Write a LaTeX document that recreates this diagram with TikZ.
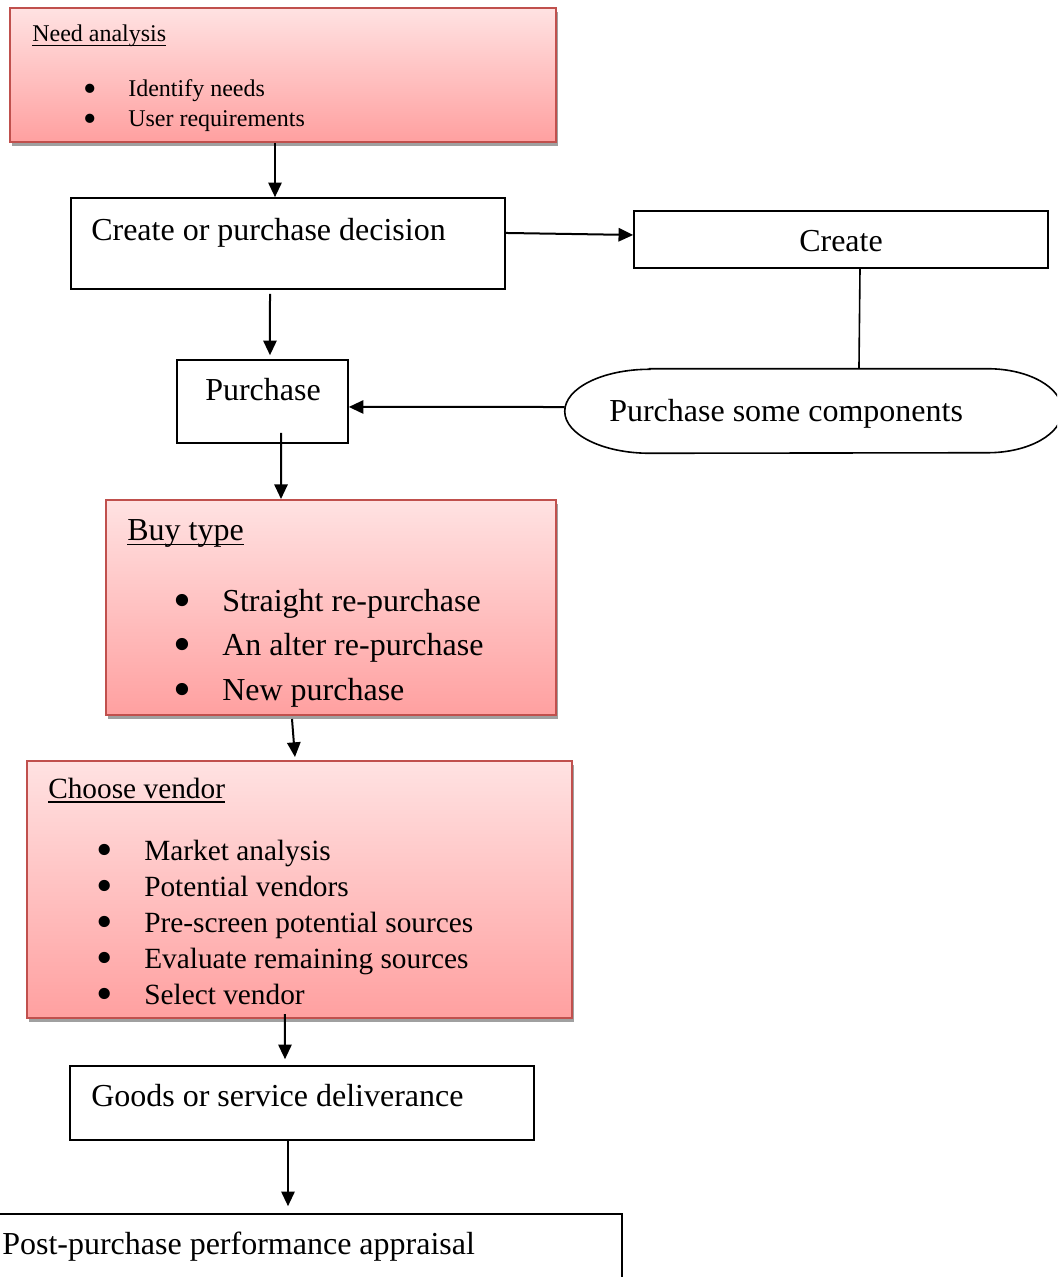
\documentclass[tikz,border=0pt]{standalone}
\usepackage{fontspec}
\setmainfont{Liberation Serif}
\usetikzlibrary{arrows.meta,fit,shadows}
\definecolor{boxred}{HTML}{C0504D}
\definecolor{pinktop}{RGB}{255,226,226}
\definecolor{pinkbot}{RGB}{255,160,160}
\definecolor{shadowgray}{RGB}{160,160,160}
% underline at a fixed depth below the baseline, crossing descenders
\newcommand\headul[1]{\setbox0\hbox{#1}\rlap{\vrule height -0.11em depth 0.17em width \wd0}\box0}
% list bullet, a little larger than the text bullet
\newcommand\listdot{\smash{\raisebox{-0.19em}{\scalebox{1.6}{\textbullet}}}}
\begin{document}
\begin{tikzpicture}[x=0.75pt,y=-0.75pt,
  frame/.style={draw=black,line width=1.2pt,inner sep=0pt},
  pinkbox/.style={draw=boxred,line width=1.5pt,inner sep=0pt,
    top color=pinktop,bottom color=pinkbot,
    drop shadow={shadow xshift=1.5pt,shadow yshift=-3pt,fill=shadowgray,opacity=1}},
  big/.style={font=\fontsize{24}{28}\selectfont},
  mid/.style={font=\fontsize{22}{26}\selectfont},
  small/.style={font=\fontsize{18}{21}\selectfont},
  lbl/.style={anchor=base west,inner sep=0pt},
  dot/.style={anchor=base,inner sep=0pt},
  arr/.style={-{Triangle[length=11pt,width=10pt]},line width=1.5pt},
  link/.style={line width=1.2pt}
]
\useasboundingbox (0,0) rectangle (1057,1277);
\clip (0,0) rectangle (1057,1277);

% Need analysis
\node[pinkbox,fit={(10,8) (556,142)}] (need) {};
\node[lbl,small] (need-title) at (32,42) {\headul{Need analysis}};
\foreach \t [count=\i] in {Identify needs,User requirements}{
  \node[dot,small] (need-dot-\i) at (90,67+30*\i) {\listdot};
  \node[lbl,small] (need-item-\i) at (128,67+30*\i) {\t};
}

% Create or purchase decision
\node[frame,fit={(71,198) (505,289)}] (cpd) {};
\node[lbl,big] (cpd-t) at (91,240) {Create or purchase decision};

% Create
\node[frame,fit={(634,211) (1048,268)}] (create) {};
\node[dot,big] (create-t) at (841,251) {Create};

% Purchase some components
\node[inner sep=0pt,fit={(565,369) (1062,453)}] (pc) {};
\draw[link] ([xshift=63.75pt]pc.north west) -- ([xshift=-56pt]pc.north east)
  arc[start angle=90,end angle=-90,x radius=56pt,y radius=31.5pt]
  -- ([xshift=63.75pt]pc.south west)
  arc[start angle=270,end angle=90,x radius=63.75pt,y radius=31.5pt] -- cycle;
\node[lbl,big] (pc-t) at (609,421) {Purchase some components};

% Purchase
\node[frame,fit={(177,360) (348,443)}] (pur) {};
\node[lbl,big] (pur-t) at (205,400) {Purchase};

% Buy type
\node[pinkbox,fit={(106,500) (556,715)}] (bt) {};
\node[lbl,big] (bt-title) at (127,540) {\headul{Buy type}};
\foreach \t [count=\i] in {Straight re-purchase,An alter re-purchase,New purchase}{
  \node[dot,big] (bt-dot-\i) at (182,566.5+44.5*\i) {\listdot};
  \node[lbl,big] (bt-item-\i) at (222,566.5+44.5*\i) {\t};
}

% Choose vendor
\node[pinkbox,fit={(27,761) (572,1018)}] (cv) {};
\node[lbl,mid] (cv-title) at (48,798) {\headul{Choose vendor}};
\foreach \t [count=\i] in {Market analysis,Potential vendors,Pre-screen potential sources,Evaluate remaining sources,Select vendor}{
  \node[dot,mid] (cv-dot-\i) at (105,824+36*\i) {\listdot};
  \node[lbl,mid] (cv-item-\i) at (144,824+36*\i) {\t};
}

% Goods or service deliverance
\node[frame,fit={(70,1066) (534,1140)}] (gd) {};
\node[lbl,big] (gd-t) at (91,1106) {Goods or service deliverance};

% Post-purchase performance appraisal
\node[frame,fit={(-10,1214) (622,1300)}] (pp) {};
\node[lbl,big] (pp-t) at (2,1254) {Post-purchase performance appraisal};

% connectors
\draw[arr] ([xshift=-6pt]need.south) -- ([xshift=-9.75pt]cpd.north);
\draw[arr] ([yshift=7.9pt]cpd.east) -- ([yshift=3.4pt]create.west);
\draw[link] ([xshift=14.25pt]create.south) -- ([xshift=34.1pt]pc.north);
\draw[arr] ([xshift=-13.5pt,yshift=-3pt]cpd.south) -- ([xshift=5.6pt,yshift=3pt]pur.north);
\draw[arr] ([yshift=3pt]pc.west) -- ([yshift=-4.1pt]pur.east);
\draw[arr] ([xshift=13.9pt,yshift=8.25pt]pur.south) -- ([xshift=-37.5pt]bt.north);
\draw[arr] ([xshift=-29.25pt,yshift=-2.25pt]bt.south) -- ([xshift=-3.4pt,yshift=2.25pt]cv.north);
\draw[arr] ([xshift=-10.9pt,yshift=3.75pt]cv.south) -- ([xshift=-12.75pt,yshift=4.5pt]gd.north);
\draw[arr] ([xshift=-10.5pt]gd.south) -- ([xshift=-13.5pt,yshift=5.25pt]pp.north);
\end{tikzpicture}
\end{document}
